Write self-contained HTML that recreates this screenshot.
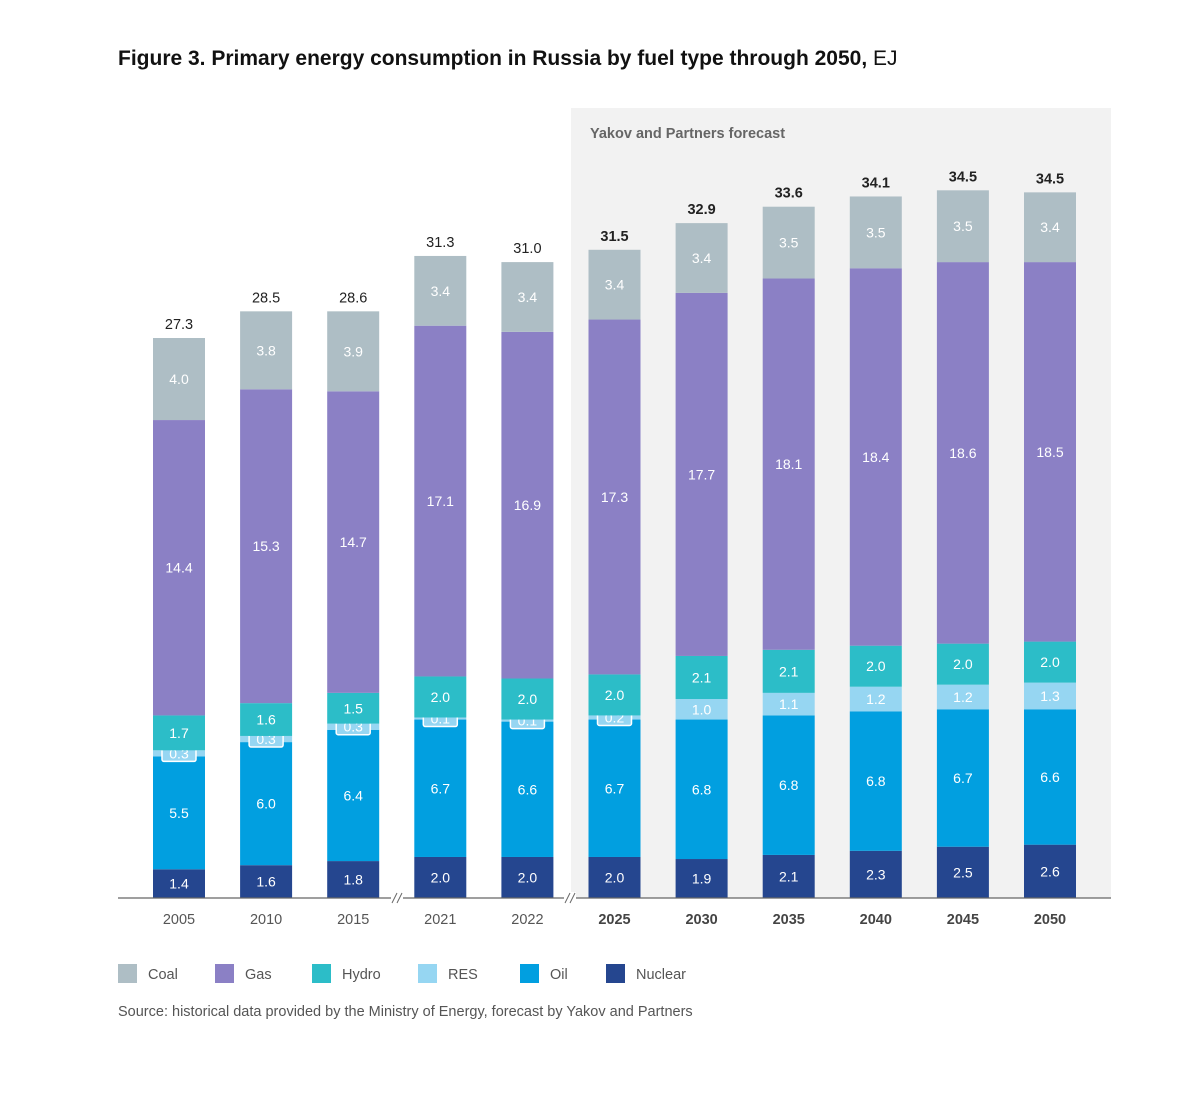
<!DOCTYPE html>
<html><head><meta charset="utf-8"><style>
body{margin:0;background:#fff;font-family:"Liberation Sans",sans-serif;}
svg text{font-family:"Liberation Sans",sans-serif;}
</style></head><body>
<svg id="chart" width="1182" height="1092" xmlns="http://www.w3.org/2000/svg">
<text x="118" y="65" font-size="21" fill="#111"><tspan font-weight="bold">Figure 3. Primary energy consumption in Russia by fuel type through 2050,</tspan> EJ</text>
<rect x="571" y="108" width="540" height="790" fill="#f2f2f2"/>
<text x="590" y="138" font-size="14.5" font-weight="bold" fill="#666">Yakov and Partners forecast</text>
<g id="bars"></g>
<line x1="118" y1="898" x2="1111" y2="898" stroke="#666" stroke-width="1.2"/>
<g stroke="#666" stroke-width="1"><rect x="391" y="892" width="12" height="12" fill="#fff" stroke="none"/><line x1="392" y1="903" x2="397" y2="893"/><line x1="397" y1="903" x2="402" y2="893"/></g>
<g stroke="#666" stroke-width="1"><rect x="564" y="892" width="12" height="12" fill="#fff" stroke="none"/><line x1="565" y1="903" x2="570" y2="893"/><line x1="570" y1="903" x2="575" y2="893"/></g>
<g id="legend"></g>
<text x="118" y="1016" font-size="14.5" fill="#555">Source: historical data provided by the Ministry of Energy, forecast by Yakov and Partners</text>
</svg>
<script>
const years=["2005","2010","2015","2021","2022","2025","2030","2035","2040","2045","2050"];
const nuclear=[1.4,1.6,1.8,2.0,2.0,2.0,1.9,2.1,2.3,2.5,2.6];
const oil=[5.5,6.0,6.4,6.7,6.6,6.7,6.8,6.8,6.8,6.7,6.6];
const res=[0.3,0.3,0.3,0.1,0.1,0.2,1.0,1.1,1.2,1.2,1.3];
const hydro=[1.7,1.6,1.5,2.0,2.0,2.0,2.1,2.1,2.0,2.0,2.0];
const gas=[14.4,15.3,14.7,17.1,16.9,17.3,17.7,18.1,18.4,18.6,18.5];
const coal=[4.0,3.8,3.9,3.4,3.4,3.4,3.4,3.5,3.5,3.5,3.4];
const totals=["27.3","28.5","28.6","31.3","31.0","31.5","32.9","33.6","34.1","34.5","34.5"];
const forecastStart=5;
const NS="http://www.w3.org/2000/svg";
const base=898, scale=560/27.3, x0=179, step=87.1, bw=52;
const yv=v=>base-v*scale;
const xc=i=>x0+i*step;
const series=[["nuclear",nuclear,"#25468f"],["oil",oil,"#019fe0"],["res",res,"#96d6f2"],["hydro",hydro,"#2cbdc8"],["gas",gas,"#8b80c5"],["coal",coal,"#aebec5"]];
const g=document.getElementById("bars");
function mk(tag,attrs,parent){const e=document.createElementNS(NS,tag);for(const k in attrs)e.setAttribute(k,attrs[k]);parent.appendChild(e);return e;}
years.forEach((yr,i)=>{
  let cum=0;
  const fc=i>=forecastStart;
  series.forEach(([name,arr,col])=>{
    const v=arr[i];
    const r=mk("rect",{x:xc(i)-bw/2,y:yv(cum+v),width:bw,height:v*scale,fill:col},g);
    
    
    const cy=yv(cum+v/2);
    if(v<0.5){
      const b=mk("rect",{x:xc(i)-17,y:cy-8,width:34,height:16,fill:col,stroke:"#fff","stroke-width":1.5,rx:2},g);
      
      
    }
    const t=mk("text",{x:xc(i),y:cy+5,"text-anchor":"middle","font-size":14,fill:"#fff"},g);
    
    
    t.textContent=v.toFixed(1);
    cum+=v;
  });
  const tt=mk("text",{x:xc(i),y:yv(cum)-9,"text-anchor":"middle","font-size":14.5,fill:"#222","font-weight":fc?"bold":"normal"},g);
  
  
  tt.textContent=totals[i];
  const yl=mk("text",{x:xc(i),y:924,"text-anchor":"middle","font-size":14.5,fill:fc?"#444":"#555","font-weight":fc?"bold":"normal"},g);
  
  
  yl.textContent=yr;
});
const legendItems=[["Coal","#aebec5",118],["Gas","#8b80c5",215],["Hydro","#2cbdc8",312],["RES","#96d6f2",418],["Oil","#019fe0",520],["Nuclear","#25468f",606]];
const lg=document.getElementById("legend");
legendItems.forEach(([n,c,x])=>{
  const gi=mk("g",{},lg);
  
  
  mk("rect",{x:x,y:964,width:19,height:19,fill:c},gi);
  const t=mk("text",{x:x+30,y:979,"font-size":14.5,fill:"#555"},gi);
  t.textContent=n;
});
</script>
</body></html>
